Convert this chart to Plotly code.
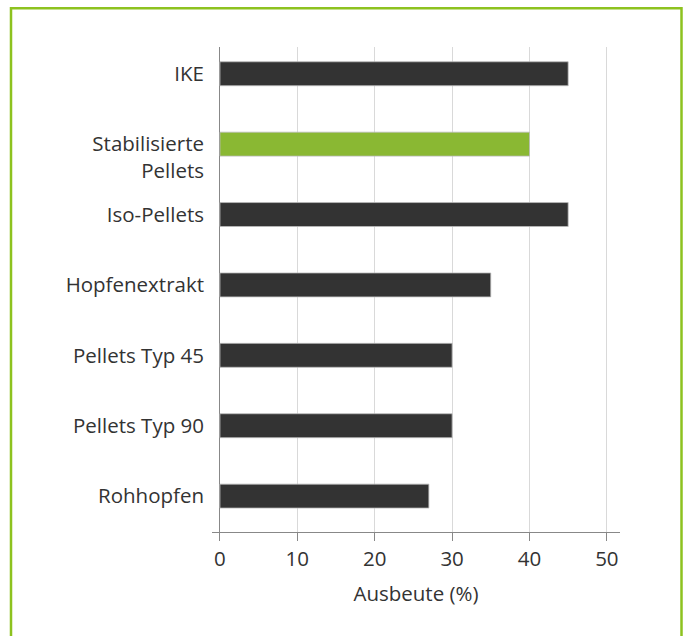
import plotly.graph_objects as go

categories = ["Rohhopfen", "Pellets Typ 90", "Pellets Typ 45", "Hopfenextrakt",
              "Iso-Pellets", "Stabilisierte<br>Pellets", "IKE"]
values = [27, 30, 30, 35, 45, 40, 45]
bar_colors = ["#333333", "#333333", "#333333", "#333333", "#333333", "#8ab833", "#333333"]
x_ticks = [0, 10, 20, 30, 40, 50]

positions = list(range(len(categories)))
tick_text = ["\u00a0<br>" + c if "<br>" in c else c for c in categories]

FONT = "'Open Sans', sans-serif"
FS = 20.5
FW = 400

fig = go.Figure(go.Bar(
    x=values, y=positions, orientation="h",
    marker=dict(color=bar_colors, line=dict(color="#bbbbbb", width=0.8)),
    width=0.34,
))

W, H = 685, 636
L, R, T, B = 212, 65, 47, 104
pw, ph = W - L - R, H - T - B

def px_to_paper_x(px):
    return (px - L) / pw

def px_to_paper_y(py):
    return (H - B - py) / ph

fig.add_shape(type="rect", xref="paper", yref="paper",
              x0=px_to_paper_x(11), x1=px_to_paper_x(681.5),
              y0=px_to_paper_y(660), y1=px_to_paper_y(8.3),
              line=dict(color="#8dc21f", width=2.5), fillcolor="rgba(0,0,0,0)",
              layer="above")

fig.update_layout(
    width=W, height=H,
    margin=dict(l=L, r=R, t=T, b=B),
    paper_bgcolor="white", plot_bgcolor="white",
    showlegend=False,
    font=dict(family=FONT, size=FS, color="#333333", weight=FW),
    xaxis=dict(
        range=[-1.03, 51.7], tickvals=x_ticks,
        showgrid=True, gridcolor="#d9d9d9", gridwidth=1,
        zeroline=True, zerolinecolor="#888888", zerolinewidth=1,
        showline=True, linecolor="#888888", linewidth=1,
        ticks="outside", ticklen=8, tickcolor="#888888",
        tickfont=dict(size=FS, color="#333333", weight=FW),
        title=dict(text="Ausbeute (%)", font=dict(size=FS, color="#333333", weight=FW), standoff=16),
    ),
    yaxis=dict(
        range=[-0.51, 6.38], tickvals=positions, ticktext=tick_text,
        showgrid=False, zeroline=False, showline=False, ticks="",
        ticklabelstandoff=7,
        tickfont=dict(size=FS, color="#333333", weight=FW),
    ),
)

fig.write_html("out.html", config={"displayModeBar": False},
               post_script="document.body.style.margin='0';")
